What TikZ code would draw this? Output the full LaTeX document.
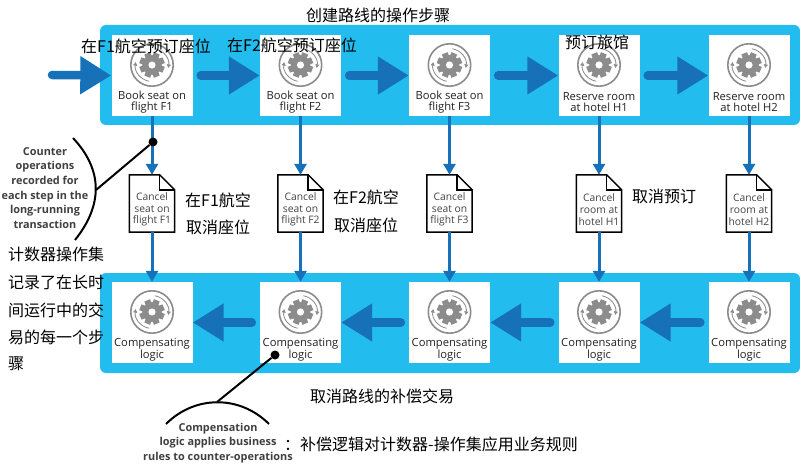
\documentclass[tikz,border=0pt]{standalone}
\usepackage{fontspec}
\setmainfont{Open Sans}
\newfontfamily\cjk{Noto Sans CJK SC}
\usetikzlibrary{arrows.meta,calc}
\definecolor{band}{HTML}{22BDEE}
\definecolor{flow}{HTML}{1771B9}
\definecolor{gearc}{HTML}{8C8C8C}
\definecolor{txt}{HTML}{222222}
\tikzset{
  bandbox/.style={fill=band,draw=none,rounded corners=6pt,minimum height=100pt,inner sep=0pt},
  stepbox/.style={fill=white,draw=none,minimum width=81pt,minimum height=81pt,inner sep=0pt},
  steptext/.style={font=\fontsize{11.2}{12}\selectfont,text=txt,align=center,inner sep=0pt},
  doctext/.style={font=\fontsize{10.3}{11.7}\selectfont,text=txt!85,align=center,inner sep=0pt},
  docbox/.style={minimum width=45pt,minimum height=57pt,inner sep=0pt},
  docline/.style={draw=black,line width=1.5pt,fill=white,line join=miter},
  fatarrow/.style={draw=flow,line width=8.5pt,line cap=round,-{Triangle[length=31pt,width=36pt]}},
  thinarrow/.style={draw=flow,line width=3pt,-{Triangle[length=11pt,width=12pt]}},
  callout/.style={draw=black,line width=2pt},
  calltext/.style={font=\bfseries\fontsize{10.9}{14.7}\selectfont,text=black!75,align=center,inner sep=0pt},
  zh/.style={font=\cjk\fontsize{16}{16}\selectfont,text=black,anchor=west,inner sep=0pt},
  gearicon/.pic={
    \draw[gearc,line width=1.6pt] (0,0) circle (21.2);
    \fill[gearc] (0,0) circle (9.8);
    \foreach \a in {0,45,...,315}{
      \fill[gearc,rotate=\a+22.5] (-3.1,-12.6) rectangle (3.1,0);
    }
    \fill[white] (0,0) circle (3.6);
    \draw[gearc,line width=.8pt,-{Triangle[length=3.5pt,width=4pt]}] (100:16.5) arc (100:190:16.5);
    \draw[gearc,line width=.8pt,-{Triangle[length=3.5pt,width=4pt]}] (280:16.5) arc (280:370:16.5);
  }
}
\begin{document}
\begin{tikzpicture}[x=1pt,y=-1pt]
\useasboundingbox (0,0) rectangle (800,465);
\path[fill=white] (0,0) rectangle (800,465);
% bands
\node[bandbox,minimum width=700pt] (topband) at (450,75) {};
\node[bandbox,minimum width=700pt] (botband) at (450,323) {};
% step boxes, documents, compensation boxes
\foreach \n/\x/\a/\b/\c/\d/\e in {
  1/152/Book seat on/flight F1/Cancel/seat on/flight F1,
  2/300.5/Book seat on/flight F2/Cancel/seat on/flight F2,
  3/449.5/Book seat on/flight F3/Cancel/seat on/flight F3,
  4/599/Reserve room/at hotel H1/Cancel/room at/hotel H1,
  5/749/Reserve room/at hotel H2/Cancel/room at/hotel H2}{
  \node[stepbox] (s\n) at (\x,75.5) {};
  \node[stepbox] (c\n) at (\x,322.5) {};
  \pic at (\x,65) {gearicon};
  \pic at (\x,312) {gearicon};
  \node[steptext] (st\n) at (\x,102) {\a\\[-.4pt]\b};
  \node[steptext] (ct\n) at (\x,350) {Compensating\\[-.4pt]logic};
  \node[docbox] (d\n) at (\x,203.5) {};
  \draw[docline] (d\n.south west) -- (d\n.north west) -- ([xshift=-15pt]d\n.north east)
     -- ([yshift=-15pt]d\n.north east) -- (d\n.south east) -- cycle;
  \draw[docline,fill=none] ([xshift=-15pt]d\n.north east) -- ++(0,15) -- ([yshift=-15pt]d\n.north east);
  \node[doctext] (dt\n) at (\x,209.5) {\c\\\d\\\e};
  \draw[thinarrow] (s\n.south) -- (d\n.north);
  \draw[thinarrow] (d\n.south) -- (c\n.north);
}
% fat arrows
\coordinate (start) at (52,75);
\draw[fatarrow] (start) -- (s1.west);
\foreach \i/\j/\o in {1/2/1,2/3/1,3/4/1,4/5/1}{
  \draw[fatarrow,shorten <=4pt] (s\i.east) ++(4,0) -- (s\j.west);
}
\foreach \i/\j in {2/1,3/2,4/3,5/4}{
  \draw[fatarrow,shorten <=4pt] (c\i.west) ++(-4,0) -- (c\j.east);
}
% callouts
\node[circle,fill=black,minimum size=9pt,inner sep=0pt] (dotA) at (153,142) {};
\coordinate (arcA) at (96,190);
\draw[callout] (dotA) -- (arcA);
\coordinate (arcAa) at (73,138);
\coordinate (arcAb) at (75,240);
\draw[callout] (arcAa) .. controls (103,170) and (103,205) .. (arcAb);
\node[circle,fill=black,minimum size=9pt,inner sep=0pt] (dotB) at (275,355) {};
\coordinate (arcB) at (217,402);
\draw[callout] (dotB) -- (arcB);
\coordinate (arcBa) at (166,424);
\coordinate (arcBb) at (269,424);
\draw[callout] (arcBa) .. controls (195,395) and (240,395) .. (arcBb);
\node[calltext] (noteA) at (45,188) {Counter\\operations\\recorded for\\each step in the\\long-running\\transaction};
\node[calltext] (noteB) at (218,443) {Compensation\\logic applies business\\rules to counter-operations};
% Chinese overlays
\node[zh] (z1) at (81,46) {在F1航空预订座位};
\node[zh] (z2) at (227,45) {在F2航空预订座位};
\node[zh] (z3) at (565,42) {预订旅馆};
\node[zh] (z4) at (185,200) {在F1航空};
\node[zh] (z5) at (186,227) {取消座位};
\node[zh] (z6) at (333,197) {在F2航空};
\node[zh] (z7) at (334,225) {取消座位};
\node[zh] (z8) at (632,196) {取消预订};
\node[zh] (z9) at (306,15) {创建路线的操作步骤};
\node[zh] (z10) at (310,396) {取消路线的补偿交易};
\node[zh] (z11) at (8,254) {计数器操作集};
\node[zh] (z12) at (8,282) {记录了在长时};
\node[zh] (z13) at (8,310) {间运行中的交};
\node[zh] (z14) at (8,337) {易的每一个步};
\node[zh] (z15) at (8,364) {骤};
\node[zh] (z16) at (284,444) {：补偿逻辑对计数器-操作集应用业务规则};
\end{tikzpicture}
\end{document}
